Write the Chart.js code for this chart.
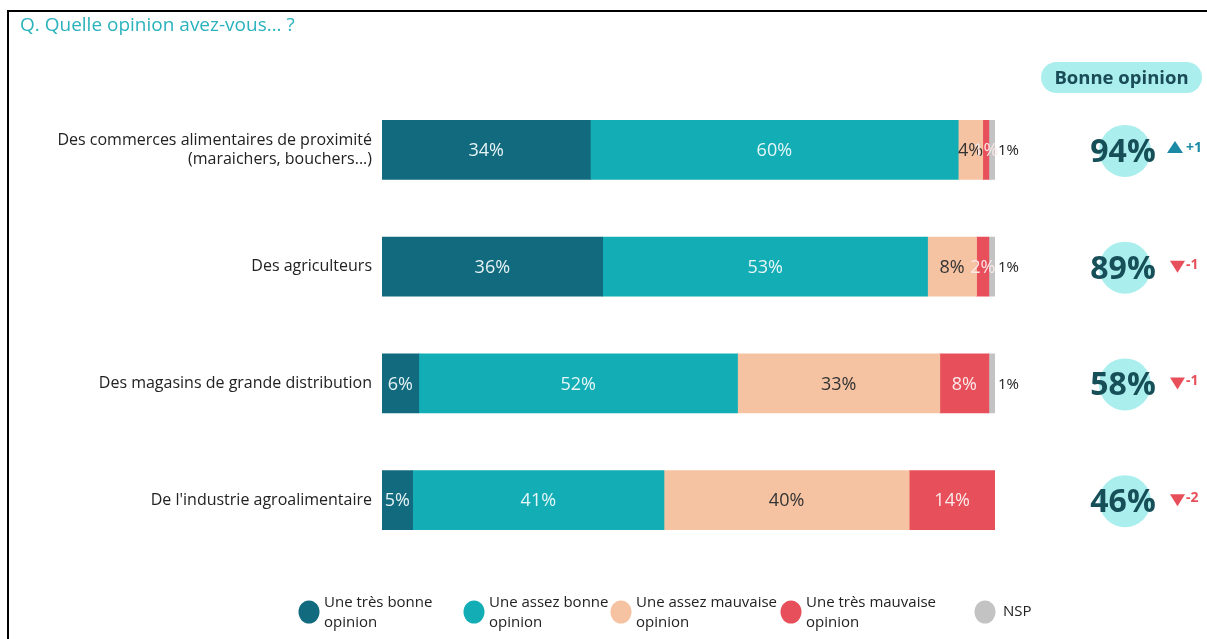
<!DOCTYPE html>
<html>
<head>
<meta charset="utf-8">
<script src="https://cdn.jsdelivr.net/npm/chart.js@4.4.1/dist/chart.umd.min.js"></script>
<style>
  html, body { margin: 0; padding: 0; background: #fff; }
  #wrap { position: relative; width: 1207px; height: 639px; }
  #frame { position: absolute; left: 7px; top: 10px; width: 1300px; height: 700px; border-left: 2px solid #000; border-top: 2px solid #000; box-sizing: border-box; pointer-events: none; }
  canvas { position: absolute; left: 0; top: 0; }
</style>
</head>
<body>
<div id="wrap">
  <canvas id="c" width="1207" height="639"></canvas>
  <div id="frame"></div>
</div>
<script>
const titleText = "Q. Quelle opinion avez-vous\u2026 ?";
const categories = [
  ["Des commerces alimentaires de proximité", "(maraichers, bouchers...)"],
  "Des agriculteurs",
  "Des magasins de grande distribution",
  "De l'industrie agroalimentaire"
];
const seriesNames = [
  ["Une très bonne", "opinion"],
  ["Une assez bonne", "opinion"],
  ["Une assez mauvaise", "opinion"],
  ["Une très mauvaise", "opinion"],
  ["NSP"]
];
const tresBonne = [34, 36, 6, 5];
const assezBonne = [60, 53, 52, 41];
const assezMauvaise = [4, 8, 33, 40];
const tresMauvaise = [1, 2, 8, 14];
const nsp = [1, 1, 1, 0];
const bonneOpinion = [94, 89, 58, 46];
const evolution = [1, -1, -1, -2];

const colors = ["#126a7f", "#13adb6", "#f6c3a2", "#e7505a", "#c3c3c3"];
const labelColors = ["#e6f3f5", "#e6f6f7", "#333333", "#fbe9ea", "#222222"];
const FONT = "'Open Sans', 'Noto Sans', sans-serif";

const seriesData = [tresBonne, assezBonne, assezMauvaise, tresMauvaise, nsp];

const datasets = seriesData.map((d, i) => ({
  label: seriesNames[i].join(" "),
  data: d,
  backgroundColor: colors[i],
  borderWidth: 0,
  barThickness: 59
}));

const valueLabels = {
  id: "valueLabels",
  afterDatasetsDraw(chart) {
    const ctx = chart.ctx;
    ctx.save();
    ctx.textBaseline = "middle";
    chart.data.datasets.forEach((ds, di) => {
      const meta = chart.getDatasetMeta(di);
      meta.data.forEach((bar, i) => {
        const v = ds.data[i];
        if (!v) return;
        const txt = v + "%";
        ctx.fillStyle = labelColors[di];
        if (di === 4) {
          ctx.font = "15px " + FONT;
          ctx.textAlign = "left";
          ctx.fillText(txt, bar.x + 3, bar.y + 1);
        } else {
          ctx.font = "18px " + FONT;
          ctx.textAlign = "center";
          const cx = (bar.base + bar.x) / 2;
          ctx.fillText(txt, cx, bar.y + 1);
        }
      });
    });
    ctx.restore();
  }
};

const decorations = {
  id: "decorations",
  afterDraw(chart) {
    const ctx = chart.ctx;
    const y = chart.scales.y;
    ctx.save();
    // title
    ctx.font = "19px " + FONT;
    ctx.fillStyle = "#2ab2bd";
    ctx.textAlign = "left";
    ctx.textBaseline = "middle";
    ctx.fillText(titleText, 20, 26);

    // Bonne opinion badge
    const bx = 1041, by = 62, bw = 161, bh = 31, r = 15.5;
    ctx.fillStyle = "#aaeeee";
    ctx.beginPath();
    ctx.moveTo(bx + r, by);
    ctx.lineTo(bx + bw - r, by);
    ctx.arc(bx + bw - r, by + r, r, -Math.PI / 2, Math.PI / 2);
    ctx.lineTo(bx + r, by + bh);
    ctx.arc(bx + r, by + r, r, Math.PI / 2, Math.PI * 1.5);
    ctx.closePath();
    ctx.fill();
    ctx.fillStyle = "#1a4c57";
    ctx.font = "bold 18.5px " + FONT;
    ctx.textAlign = "center";
    ctx.fillText("Bonne opinion", bx + bw / 2, by + bh / 2 + 1);

    // per-row totals
    bonneOpinion.forEach((v, i) => {
      const cy = y.getPixelForValue(i);
      ctx.fillStyle = "#aaeeee";
      ctx.beginPath();
      ctx.arc(1125, cy + 1, 26, 0, Math.PI * 2);
      ctx.fill();
      ctx.fillStyle = "#174f59";
      ctx.font = "bold 32px " + FONT;
      ctx.textAlign = "center";
      ctx.fillText(v + "%", 1123, cy + 3);

      const e = evolution[i];
      const up = e > 0;
      const col = up ? "#1b89a6" : "#e7505a";
      ctx.fillStyle = col;
      ctx.beginPath();
      if (up) {
        ctx.moveTo(1167, cy + 3);
        ctx.lineTo(1183, cy + 3);
        ctx.lineTo(1175, cy - 9);
      } else {
        ctx.moveTo(1170, cy - 6);
        ctx.lineTo(1185, cy - 6);
        ctx.lineTo(1177.5, cy + 6);
      }
      ctx.closePath();
      ctx.fill();
      ctx.font = "bold 14px " + FONT;
      ctx.textAlign = "left";
      ctx.fillText((up ? "+" : "-") + Math.abs(e), 1186, cy - 2);
    });

    // legend
    const legendX = [309, 474, 621, 791, 985];
    const textX = [324, 489, 636, 806, 1003];
    seriesNames.forEach((name, i) => {
      ctx.fillStyle = colors[i];
      ctx.beginPath();
      ctx.ellipse(legendX[i], 612, 10.5, 11.5, 0, 0, Math.PI * 2);
      ctx.fill();
      ctx.fillStyle = "#222";
      ctx.font = "15px " + FONT;
      ctx.textAlign = "left";
      if (name.length === 2) {
        ctx.fillText(name[0], textX[i], 603);
        ctx.fillText(name[1], textX[i], 623);
      } else {
        ctx.fillText(name[0], textX[i], 612);
      }
    });
    ctx.restore();
  }
};

new Chart(document.getElementById("c"), {
  type: "bar",
  data: { labels: categories, datasets },
  options: {
    indexAxis: "y",
    responsive: false,
    animation: false,
    layout: { padding: { left: 0, right: 212, top: 91.5, bottom: 80.5 } },
    plugins: { legend: { display: false }, tooltip: { enabled: false } },
    scales: {
      x: { stacked: true, display: false, min: 0, max: 100 },
      y: {
        stacked: true,
        grid: { display: false, drawTicks: false },
        border: { display: false },
        afterFit(scale) { scale.width = 382; },
        ticks: {
          padding: 10,
          color: "#222",
          font: { family: FONT, size: 16 }
        }
      }
    }
  },
  plugins: [valueLabels, decorations]
});
</script>
</body>
</html>
